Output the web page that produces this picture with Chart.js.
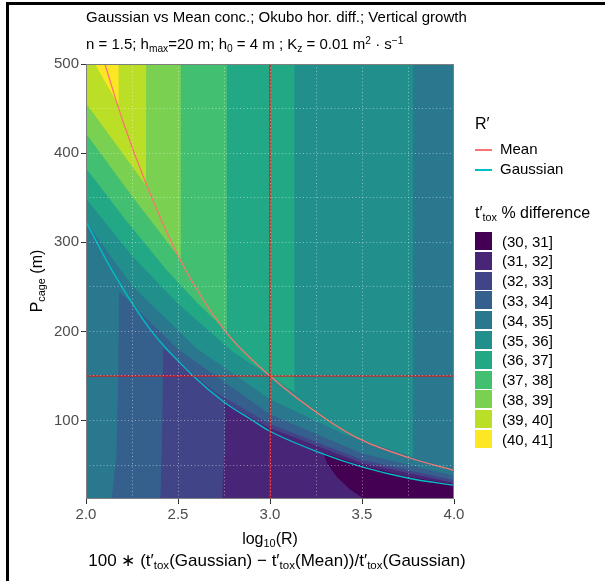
<!DOCTYPE html>
<html>
<head>
<meta charset="utf-8">
<script src="https://cdn.jsdelivr.net/npm/chart.js@4.4.1/dist/chart.umd.min.js"></script>
<style>
  body { margin: 0; background: #fff; font-family: "Liberation Sans", Arial, sans-serif; }
  #wrap { position: relative; width: 605px; height: 581px; overflow: hidden; background: #fff; }
  #frame { position: absolute; left: 6px; top: 2px; right: 0; bottom: 0; border-left: 3px solid #000; border-top: 3px solid #000; }
  canvas { position: absolute; left: 0; top: 0; }
  .t { position: absolute; white-space: nowrap; color: #000; line-height: 1; }
  .sub { font-size: 68%; position: relative; top: 0.3em; }
  .sup { font-size: 68%; position: relative; top: -0.45em; }
  .key { position: absolute; left: 475px; white-space: nowrap; font-size: 15px; line-height: 1; }
  .ln { position: absolute; left: 0; width: 17px; height: 1.5px; }
  .box { position: absolute; left: 475px; width: 17px; height: 18px; }
  .lab { position: absolute; left: 502px; font-size: 15px; line-height: 1; white-space: nowrap; }
</style>
</head>
<body>
<div id="wrap">
  <canvas id="cv" width="605" height="581"></canvas>
  <div id="frame"></div>

  <div class="t" style="left:86px;top:9px;font-size:15px">Gaussian vs Mean conc.; Okubo hor. diff.; Vertical growth</div>
  <div class="t" style="left:86px;top:36px;font-size:15px">n = 1.5; h<span class="sub">max</span>=20 m; h<span class="sub">0</span> = 4 m ; K<span class="sub">z</span> = 0.01 m<span class="sup">2</span> · s<span class="sup">−1</span></div>

  <div class="t" style="left:37px;top:281px;font-size:16px;transform:translate(-50%,-50%) rotate(-90deg)">P<span class="sub">cage</span> (m)</div>
  <div class="t" style="left:270px;top:531px;font-size:16px;transform:translateX(-50%)">log<span class="sub">10</span>(R)</div>
  <div class="t" style="left:277px;top:552px;font-size:17px;transform:translateX(-50%)">100 ∗ (t′<span class="sub">tox</span>(Gaussian) − t′<span class="sub">tox</span>(Mean))/t′<span class="sub">tox</span>(Gaussian)</div>

  <div class="t" style="left:475px;top:116px;font-size:16px">R′</div>
  <div class="key" style="top:141px"><span class="ln" style="top:8px;background:#F8766D"></span><span style="margin-left:25px">Mean</span></div>
  <div class="key" style="top:161px"><span class="ln" style="top:8px;background:#00BFC4"></span><span style="margin-left:25px">Gaussian</span></div>
  <div class="t" style="left:475px;top:205px;font-size:16px">t′<span class="sub">tox</span> % difference</div>
  <div id="classes"></div>
</div>

<script>
// axis limits: log10(R) and P_cage (m)
const rRange = [2.0, 4.0];
const pRange = [12, 500];
const rTicks = [2.0, 2.5, 3.0, 3.5, 4.0];
const pTicks = [100, 200, 300, 400, 500];

// t'_tox % difference classes
const classLabels = ['(30, 31]', '(31, 32]', '(32, 33]', '(33, 34]', '(34, 35]', '(35, 36]',
                     '(36, 37]', '(37, 38]', '(38, 39]', '(39, 40]', '(40, 41]'];
const viridis = ['#440154', '#482576', '#414487', '#35608D', '#2A788E', '#21908C',
                 '#22A884', '#43BF71', '#7AD151', '#BBDF27', '#FDE725'];

// contourN: upper edge [log10R, P] of the area where the difference is below N %
const contour40 = [[2.0, 500], [2.049, 500], [2.176, 454], [2.177, 500], [4.0, 500]];
const contour39 = [[2.0, 456], [2.326, 364], [2.327, 500], [4.0, 500]];
const contour38 = [[2.0, 422], [2.25, 352], [2.514, 281], [2.515, 500], [4.0, 500]];
const contour37 = [[2.0, 383], [2.22, 324], [2.438, 269], [2.6, 233], [2.765, 200], [2.766, 500], [4.0, 500]];
const contour36 = [[2.0, 349], [2.25, 285], [2.5, 231], [2.8, 177], [3.132, 132], [3.133, 500], [4.0, 500]];
const contour35 = [[2.0, 323], [2.248, 252], [2.6, 181], [3.0, 124], [3.4, 85], [3.776, 59], [3.777, 500], [4.0, 500]];
const contour34 = [[2.0, 12], [2.14, 12], [2.165, 60], [2.175, 150], [2.18, 245], [2.5, 180], [3.0, 107], [3.5, 63], [4.0, 38]];
const contour33 = [[2.0, 12], [2.405, 12], [2.415, 100], [2.42, 181], [2.7, 132], [3.0, 96], [3.5, 56], [4.0, 33]];
const contour32 = [[2.0, 12], [2.74, 12], [2.75, 60], [2.755, 120], [3.0, 91.5], [3.5, 52.5], [4.0, 30]];
// the (30, 31] pocket lies between these two edges
const contour31 = [[3.29, 64], [3.5, 49.5], [3.76, 36.5], [4.0, 28.5]];
const floor31 = [[3.29, 64], [3.31, 52], [3.36, 37.5], [3.435, 22.6], [3.49, 15], [3.516, 12], [4.0, 12]];

// R' curves
const meanR = [2.095, 2.2, 2.33, 2.51, 2.75, 3.0, 3.31, 3.5, 3.76, 4.0];
const meanP = [505, 436, 364, 281, 202, 150, 101, 78, 58, 44];
const gaussR = [2.0, 2.14, 2.357, 2.583, 2.755, 2.891, 3.0, 3.27, 3.5, 3.76, 4.0];
const gaussP = [323, 269, 200, 150, 120, 102, 88, 64, 48, 35, 27.4];

// reference design point
const refR = 3.0;
const refP = 150;

const xy = pts => pts.map(([x, y]) => ({ x, y }));
const zip = (xs, ys) => xs.map((x, i) => ({ x, y: ys[i] }));

// painter order: whole panel in the top class, then each lower class on top
const layers = [
  [[[rRange[0], pRange[1]], [rRange[1], pRange[1]]], 10],
  [contour40, 9], [contour39, 8], [contour38, 7], [contour37, 6], [contour36, 5],
  [contour35, 4], [contour34, 3], [contour33, 2], [contour32, 1]
];

const datasets = [];
let order = 1000;
layers.forEach(([edge, k]) => {
  datasets.push({
    data: xy(edge), fill: 'start', backgroundColor: viridis[k],
    borderWidth: 0, pointRadius: 0, order: order--
  });
});
const floorIndex = datasets.length;
datasets.push({ data: xy(floor31), fill: false, borderWidth: 0, pointRadius: 0, order: order-- });
datasets.push({
  data: xy(contour31), fill: floorIndex, backgroundColor: viridis[0],
  borderWidth: 0, pointRadius: 0, order: order--
});

const lineStyle = { fill: false, pointRadius: 0, borderWidth: 1.3, cubicInterpolationMode: 'monotone' };
datasets.push(Object.assign({ data: zip(meanR, meanP), borderColor: '#F8766D', order: 3 }, lineStyle));
datasets.push(Object.assign({ data: zip(gaussR, gaussP), borderColor: '#00BFC4', order: 2 }, lineStyle));
datasets.push({ data: [{ x: refR, y: pRange[0] }, { x: refR, y: pRange[1] }], borderColor: '#FF0000',
  borderWidth: 1.2, pointRadius: 0, fill: false, order: 1 });
datasets.push({ data: [{ x: rRange[0], y: refP }, { x: rRange[1], y: refP }], borderColor: '#FF0000',
  borderWidth: 1.2, pointRadius: 0, fill: false, order: 1 });

const panelBorder = {
  id: 'panelBorder',
  afterDraw(chart) {
    const a = chart.chartArea, ctx = chart.ctx;
    ctx.save();
    ctx.strokeStyle = '#7F7F7F';
    ctx.lineWidth = 1;
    ctx.strokeRect(a.left + 0.5, a.top + 0.5, a.right - a.left - 1, a.bottom - a.top - 1);
    ctx.restore();
  }
};

const gridColor = ctx => {
  const v = ctx.tick && ctx.tick.value;
  const s = ctx.scale;
  if (v === s.min || v === s.max) return 'rgba(0,0,0,0)';
  return 'rgba(255,255,255,0.45)';
};

new Chart(document.getElementById('cv'), {
  type: 'line',
  data: { datasets },
  plugins: [panelBorder],
  options: {
    responsive: false,
    animation: false,
    devicePixelRatio: 1,
    events: [],
    layout: { padding: { left: 0, top: 64, right: 151, bottom: 52 } },
    plugins: { legend: { display: false }, tooltip: { enabled: false } },
    scales: {
      x: {
        type: 'linear', min: rRange[0], max: rRange[1],
        afterBuildTicks: axis => {
          const t = [];
          for (let v = rRange[0]; v <= rRange[1] + 1e-9; v += 0.25) t.push({ value: +v.toFixed(2) });
          axis.ticks = t;
        },
        afterFit: axis => { axis.height = 30; },
        grid: {
          z: 1, color: gridColor, lineWidth: 1, tickLength: 5,
          tickColor: ctx => rTicks.includes(ctx.tick.value) ? '#333333' : 'rgba(0,0,0,0)'
        },
        border: { display: false, dash: [1, 2.5] },
        ticks: {
          color: '#4D4D4D', padding: 2, maxRotation: 0, autoSkip: false,
          font: { family: 'Liberation Sans', size: 15 },
          callback: v => rTicks.includes(v) ? v.toFixed(1) : ''
        }
      },
      y: {
        type: 'linear', min: pRange[0], max: pRange[1],
        afterBuildTicks: axis => {
          const t = [];
          for (let v = 50; v <= pRange[1]; v += 50) t.push({ value: v });
          axis.ticks = t;
        },
        afterFit: axis => { axis.width = 86; },
        grid: {
          z: 1, color: gridColor, lineWidth: 1, tickLength: 5,
          tickColor: ctx => pTicks.includes(ctx.tick.value) ? '#333333' : 'rgba(0,0,0,0)'
        },
        border: { display: false, dash: [1, 2.5] },
        ticks: {
          color: '#4D4D4D', padding: 2, autoSkip: false,
          font: { family: 'Liberation Sans', size: 15 },
          callback: v => pTicks.includes(v) ? String(v) : ''
        }
      }
    }
  }
});

// class legend
const holder = document.getElementById('classes');
classLabels.forEach((lab, i) => {
  const top = 232 + i * 19.8;
  const b = document.createElement('div');
  b.className = 'box';
  b.style.top = top + 'px';
  b.style.background = viridis[i];
  holder.appendChild(b);
  const l = document.createElement('div');
  l.className = 'lab';
  l.style.top = (top + 1.5) + 'px';
  l.textContent = lab;
  holder.appendChild(l);
});
</script>
</body>
</html>
